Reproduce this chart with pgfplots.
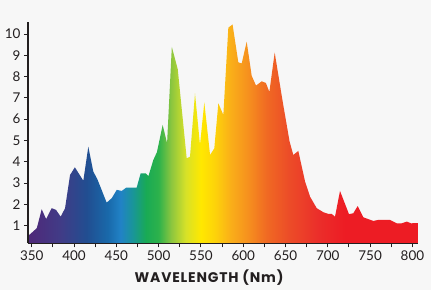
\documentclass[border=0pt]{standalone}
\usepackage{pgfplots}
\pgfplotsset{compat=1.18}
\usepackage{fontspec}
\setmainfont{Lato}
\newfontfamily\labelfont[LetterSpace=6]{Poppins}

\definecolor{bg}{RGB}{247,247,247}
\definecolor{ink}{RGB}{35,31,32}

% Visible-spectrum colour ramp; 25bp..75bp spans the filled path (345.6 to 806.6 nm)
\pgfdeclarehorizontalshading{spectrum}{100bp}{%
  color(0bp)=(rgb,255:red,78;green,42;blue,122);
  color(25bp)=(rgb,255:red,78;green,42;blue,122);
  color(25.48bp)=(rgb,255:red,78;green,42;blue,122);
  color(29.27bp)=(rgb,255:red,64;green,60;blue,135);
  color(32.53bp)=(rgb,255:red,33;green,78;blue,145);
  color(35.24bp)=(rgb,255:red,25;green,105;blue,170);
  color(36.87bp)=(rgb,255:red,33;green,130;blue,198);
  color(38.50bp)=(rgb,255:red,25;green,150;blue,150);
  color(40.12bp)=(rgb,255:red,25;green,170;blue,85);
  color(41.75bp)=(rgb,255:red,45;green,178;blue,75);
  color(43.37bp)=(rgb,255:red,140;green,198;blue,63);
  color(45.22bp)=(rgb,255:red,215;green,225;blue,40);
  color(47.17bp)=(rgb,255:red,255;green,232;blue,0);
  color(49.01bp)=(rgb,255:red,253;green,210;blue,10);
  color(50.97bp)=(rgb,255:red,250;green,175;blue,25);
  color(53.14bp)=(rgb,255:red,246;green,145;blue,30);
  color(55.63bp)=(rgb,255:red,240;green,105;blue,35);
  color(58.56bp)=(rgb,255:red,236;green,75;blue,40);
  color(62.35bp)=(rgb,255:red,235;green,45;blue,42);
  color(65.61bp)=(rgb,255:red,237;green,28;blue,36);
  color(75bp)=(rgb,255:red,237;green,28;blue,36);
  color(100bp)=(rgb,255:red,237;green,28;blue,36)}

\begin{document}
\begin{tikzpicture}
\fill[bg] (-28bp,-46.7bp) rectangle (403bp,243.3bp);
\begin{axis}[
  scale only axis,
  width=390bp, height=221.6bp,
  xmin=345.6, xmax=806.6,
  ymin=0.17, ymax=10.58,
  axis lines=left,
  axis line style={ink, line width=1.3pt, -},
  axis on top,
  xtick={350,400,...,800},
  minor xtick={375,425,...,775},
  ytick={1,...,10},
  tick align=outside,
  major tick length=4bp,
  minor tick length=4bp,
  every tick/.style={ink, line width=1pt},
  tick label style={ink, font=\fontsize{13.5}{16}\selectfont},
  /pgf/number format/assume math mode=true,
  /pgf/number format/1000 sep={},
  xlabel={\textbf{WAVELENGTH (Nm)}},
  xlabel style={at={(rel axis cs:0.4654,0)}, anchor=base, yshift=-39bp,
    ink, font=\labelfont\fontsize{14}{16}\selectfont},
]
\addplot[draw=none, shading=spectrum] coordinates {
(345.6,0.55) (347,0.56) (356,0.88) (361.8,1.77) (367,1.31) (373.6,1.82)
(378.7,1.74) (384.3,1.42) (389.4,1.82) (395.3,3.38) (401,3.74) (411,3.11)
(416.9,4.71) (422.8,3.54) (427.6,3.18) (438.6,2.08) (444.6,2.29) (450.5,2.68)
(456.4,2.63) (461.5,2.78) (474,2.78) (478.8,3.46) (484.8,3.46) (488,3.33)
(493.7,4.08) (498,4.45) (504.8,5.73) (510,4.87) (515.6,9.4) (522.6,8.35)
(533.2,4.16) (537.1,4.24) (543,7.21) (548.9,4.79) (554,6.79) (560.8,4.32)
(565.8,4.63) (570.6,6.75) (576.5,6.2) (582.4,10.3) (587.4,10.45) (594.2,8.67)
(598.2,8.62) (604.1,9.64) (610,8.04) (615.1,7.58) (621.9,7.78) (626.8,7.7)
(630.9,7.28) (637.2,9.13) (646.5,6.86) (654.8,4.95) (659.2,4.32) (665.1,4.51)
(673.1,3.07) (679,2.36) (686.9,1.82) (694.7,1.63) (700.6,1.55) (704.6,1.55)
(708.5,1.42) (714.4,2.63) (725,1.54) (730.1,1.58) (735.3,1.92) (742,1.39)
(753.8,1.22) (759.7,1.27) (773.5,1.27) (781.4,1.11) (787.3,1.11) (793.3,1.19)
(798.3,1.11) (806.6,1.12)
} \closedcycle;
\end{axis}
\end{tikzpicture}
\end{document}
